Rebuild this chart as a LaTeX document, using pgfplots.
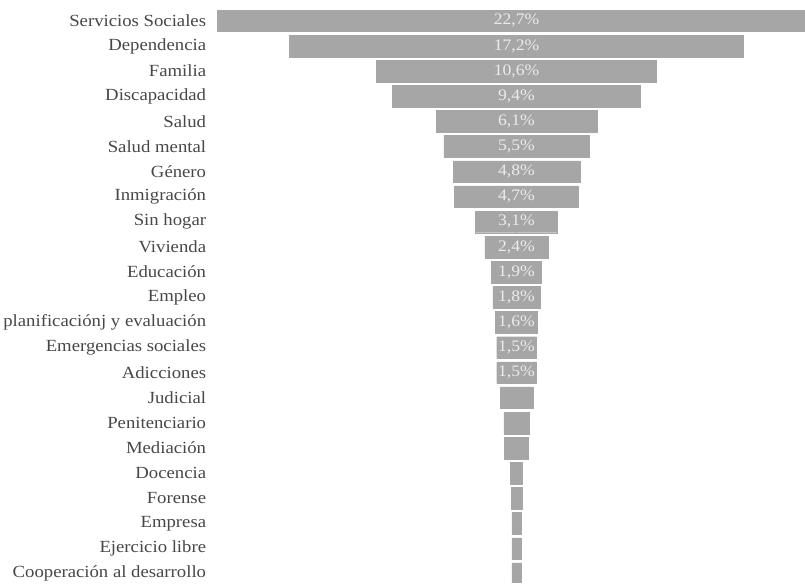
\documentclass[border=0pt]{standalone}
\usepackage{fontspec}
\setmainfont[FakeStretch=1.1]{Liberation Serif}
\usepackage{pgfplots}
\pgfplotsset{compat=1.18}
\usepackage{pgfplotstable}
\definecolor{bargray}{HTML}{A6A6A6}
\pgfplotstableread{
y v
0 22.7
1 17.2
2 10.6
3 9.4
4 6.1
5 5.5
6 4.8
7 4.7
8 3.1
9 2.4
10 1.9
11 1.8
12 1.6
13 1.5
14 1.5
15 1.25
16 0.95
17 0.9
18 0.46
19 0.40
20 0.36
21 0.36
22 0.36
}\datatable
\pgfplotstableread[col sep=semicolon]{
y;lab
0;22,7\%
1;17,2\%
2;10,6\%
3;9,4\%
4;6,1\%
5;5,5\%
6;4,8\%
7;4,7\%
8;3,1\%
9;2,4\%
10;1,9\%
11;1,8\%
12;1,6\%
13;1,5\%
14;1,5\%
}\labtable
\begin{document}
\begin{tikzpicture}
\begin{axis}[
  scale only axis, width=588pt, height=582pt,
  xmin=-11.385, xmax=10.93, ymin=-0.83, ymax=22.36, y dir=reverse,
  axis line style={draw=none}, major tick length=0pt,
  xtick=\empty,
  ytick={0,...,22},
  yticklabels={Servicios Sociales, Dependencia, Familia, Discapacidad, Salud, Salud mental, Género, Inmigración, Sin hogar, Vivienda, Educación, Empleo, planificaciónj y evaluación, Emergencias sociales, Adicciones, Judicial, Penitenciario, Mediación, Docencia, Forense, Empresa, Ejercicio libre, Cooperación al desarrollo},
  yticklabel style={font=\fontsize{17}{19}\selectfont, text=black!72, xshift=-6.5pt},
  clip=true,
]
\addplot[xbar, bar width=21.6pt, bar shift=0pt, fill=bargray, draw=bargray, line width=0.4pt] table[x expr=\thisrow{v}/2, y=y] {\datatable};
\addplot[xbar, bar width=21.6pt, bar shift=0pt, fill=bargray, draw=bargray, line width=0.4pt] table[x expr=-\thisrow{v}/2, y=y] {\datatable};
\addplot[only marks, mark=text, text mark={}, nodes near coords, point meta=explicit symbolic,
  nodes near coords style={anchor=center, font=\fontsize{16}{18}\selectfont, text=white!92!black}]
  table[x expr=0, y=y, meta=lab] {\labtable};
\end{axis}
\end{tikzpicture}
\end{document}
